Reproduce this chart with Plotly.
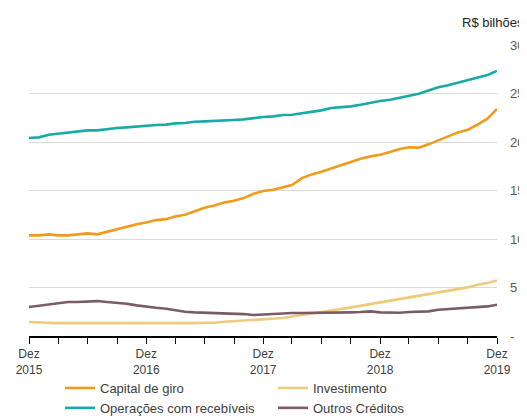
import plotly.graph_objects as go

months = [f"{y}-{m:02d}-01" for y in range(2015, 2020) for m in range(1, 13)][11:60]

capital_de_giro = [10.37, 10.37, 10.48, 10.37, 10.37, 10.48, 10.58, 10.48, 10.75, 11.03,
                   11.27, 11.51, 11.71, 11.95, 12.05, 12.33, 12.5, 12.88, 13.22, 13.46,
                   13.77, 13.94, 14.22, 14.67, 14.95, 15.08, 15.32, 15.56, 16.28, 16.66,
                   16.94, 17.28, 17.63, 18.0, 18.28, 18.52, 18.69, 18.97, 19.28, 19.45,
                   19.42, 19.76, 20.17, 20.51, 20.99, 21.27, 21.78, 22.4, 23.4]

operacoes_recebiveis = [20.41, 20.48, 20.75, 20.85, 20.92, 21.09, 21.2, 21.2, 21.34, 21.44,
                        21.51, 21.61, 21.68, 21.75, 21.79, 21.92, 21.96, 22.09, 22.13, 22.16,
                        22.2, 22.27, 22.33, 22.47, 22.57, 22.64, 22.78, 22.81, 22.95, 23.16,
                        23.26, 23.5, 23.6, 23.67, 23.85, 24.05, 24.22, 24.36, 24.56, 24.77,
                        24.98, 25.32, 25.64, 25.84, 26.1, 26.38, 26.62, 26.9, 27.33]

investimento = [1.44, 1.44, 1.37, 1.33, 1.33, 1.33, 1.33, 1.33, 1.33, 1.33,
                1.3, 1.27, 1.27, 1.27, 1.27, 1.27, 1.27, 1.33, 1.37, 1.37,
                1.47, 1.54, 1.61, 1.64, 1.7, 1.78, 1.85, 2.02, 2.16, 2.3,
                2.47, 2.61, 2.78, 2.95, 3.12, 3.33, 3.5, 3.67, 3.84, 4.02,
                4.19, 4.36, 4.53, 4.71, 4.88, 5.01, 5.29, 5.46, 5.73]

outros_creditos = [2.99, 3.12, 3.26, 3.4, 3.5, 3.5, 3.53, 3.6, 3.5, 3.43,
                   3.33, 3.16, 3.02, 2.91, 2.81, 2.64, 2.5, 2.44, 2.4, 2.4,
                   2.33, 2.26, 2.26, 2.16, 2.22, 2.3, 2.33, 2.37, 2.37, 2.37,
                   2.37, 2.37, 2.37, 2.44, 2.47, 2.54, 2.44, 2.4, 2.4, 2.47,
                   2.51, 2.54, 2.71, 2.78, 2.78, 2.88, 2.99, 3.05, 3.22]

y_tickvals = [0, 5, 10, 15, 20, 25, 30]
y_ticktext = ["-", "5", "10", "15", "20", "25", "30"]

x_tickvals = months[::3]
x_ticktext = [f"Dez<br>{m[:4]}" if m[5:7] == "12" else "" for m in x_tickvals]

series = [
    ("Capital de giro", capital_de_giro, "#F29A1B"),
    ("Investimento", investimento, "#EECB7A"),
    ("Operações com recebíveis", operacoes_recebiveis, "#18AAA7"),
    ("Outros Créditos", outros_creditos, "#7C5C64"),
]

fig = go.Figure()
for name, vals, color in series:
    fig.add_trace(go.Scatter(x=months, y=vals, name=name, mode="lines",
                             line=dict(color=color, width=2.6)))

# page body adds an 8px offset; figure coordinates compensate for it
fig.update_layout(
    width=527, height=416,
    margin=dict(l=21, r=38, t=37, b=88),
    paper_bgcolor="white", plot_bgcolor="white",
    font=dict(family="Liberation Sans, Arial, sans-serif", size=13, color="#404040"),
    showlegend=True,
    legend=dict(orientation="h", x=(52 - 21) / 468, xanchor="left",
                yref="container", y=1 - 365 / 416, yanchor="top",
                entrywidth=168, entrywidthmode="pixels", traceorder="normal",
                font=dict(size=13, color="#404040"), tracegroupgap=0,
                bgcolor="rgba(0,0,0,0)"),
    xaxis=dict(type="date", range=[months[0], months[-1]],
               tickvals=x_tickvals, ticktext=x_ticktext, automargin=False,
               ticks="outside", ticklen=6, tickwidth=1.3, tickcolor="black",
               showline=True, linecolor="black", linewidth=1.5,
               showgrid=False, zeroline=False,
               tickfont=dict(size=12, color="#404040")),
    yaxis=dict(range=[0, 30], side="right", tickvals=y_tickvals, ticktext=y_ticktext,
               showgrid=True, gridcolor="#DADADA", gridwidth=1, automargin=False,
               zeroline=False, showline=False, ticks="",
               ticklabelstandoff=12,
               tickfont=dict(size=13, color="#595959")),
    annotations=[dict(text="R$ bilhões", xref="paper", yref="paper",
                      x=(518 - 21) / 468, y=1.0, xanchor="right", yanchor="bottom",
                      yshift=13, showarrow=False,
                      font=dict(size=13, color="#222222"))],
)

fig.write_html("out.html")
